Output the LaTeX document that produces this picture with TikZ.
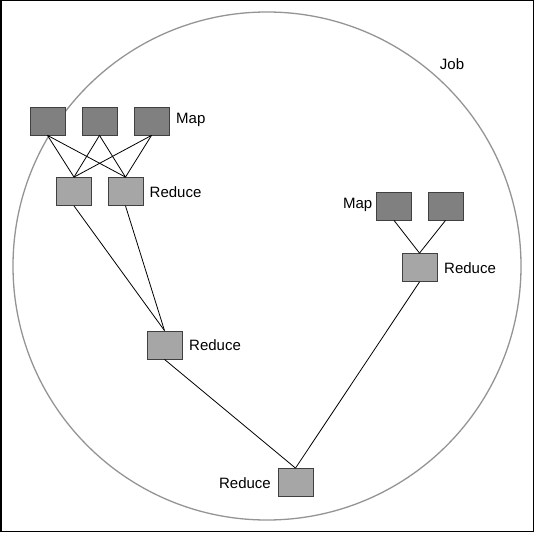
\documentclass[tikz,border=0pt]{standalone}
\usepackage{fontspec}
\setmainfont{Liberation Sans}
\begin{document}
\begin{tikzpicture}[x=1pt,y=-1pt,
  mapbox/.style={draw=black!75,fill=black!50,line width=0.8pt,minimum width=35pt,minimum height=28pt,inner sep=0pt},
  redbox/.style={draw=black!75,fill=black!35,line width=0.8pt,minimum width=35pt,minimum height=28pt,inner sep=0pt},
  lbl/.style={font=\fontsize{15}{17}\selectfont,inner sep=0pt},
  link/.style={draw=black,line width=0.8pt}]
\useasboundingbox (0,0) rectangle (534,532);
\draw[line width=1.5pt] (0.75,0.75) rectangle (533.25,531.25);
\draw[black!42,line width=1.3pt] (267,266) circle[radius=254];
\node[lbl] (job) at (452,64) {Job};
% top-left group
\node[mapbox] (m1) at (47.5,121) {};
\node[mapbox] (m2) at (99.5,121) {};
\node[mapbox] (m3) at (151.5,121) {};
\node[lbl,anchor=west] (mapl1) at (176,120) {Map};
\node[redbox] (r1) at (74,191.5) {};
\node[redbox] (r2) at (125.5,191.5) {};
\node[lbl,anchor=west] (redl1) at (149.5,192) {Reduce};
% middle reduce
\node[redbox] (r3) at (164.5,345) {};
\node[lbl,anchor=west] (redl3) at (189,345) {Reduce};
% right group
\node[mapbox] (m4) at (394,206) {};
\node[mapbox] (m5) at (445.5,206) {};
\node[lbl,anchor=east] (mapl2) at (372.5,205) {Map};
\node[redbox] (r4) at (419.5,267.5) {};
\node[lbl,anchor=west] (redl4) at (444,268) {Reduce};
% bottom reduce
\node[redbox] (r5) at (295.5,482.5) {};
\node[lbl,anchor=east] (redl5) at (271,483) {Reduce};
% links
\foreach \m in {m1,m2,m3}{
  \foreach \r in {r1,r2}{
    \draw[link] (\m.south) -- (\r.north);
  }
}
\draw[link] (r1.south) -- (r3.north);
\draw[link] (r2.south) -- (r3.north);
\draw[link] (m4.south) -- (r4.north);
\draw[link] (m5.south) -- (r4.north);
\draw[link] (r3.south) -- (r5.north);
\draw[link] (r4.south) -- (r5.north);
\end{tikzpicture}
\end{document}
